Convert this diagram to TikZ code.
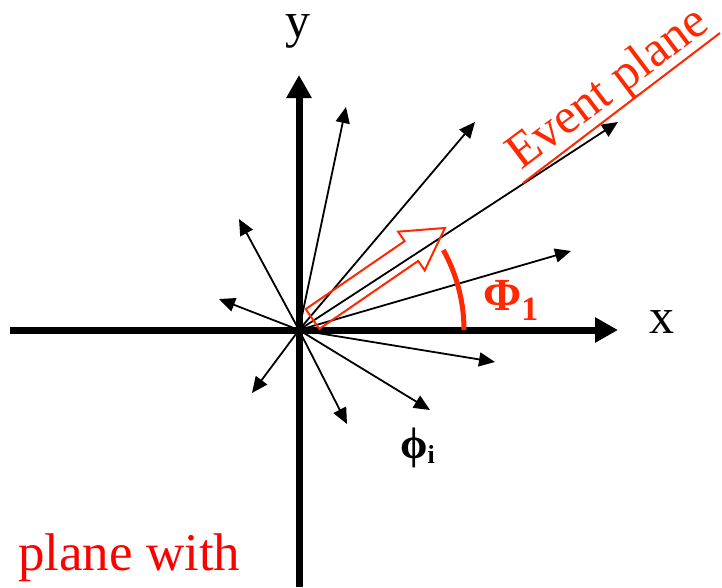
\documentclass[tikz,border=0pt]{standalone}
\usepackage{fontspec}
\setmainfont{Liberation Serif}
\usetikzlibrary{arrows.meta}
\definecolor{epred}{RGB}{255,40,0}

\begin{document}
\begin{tikzpicture}[x=1pt,y=1pt,
  axis/.style={line width=7pt,-{Triangle[length=23pt,width=24pt]}},
  vec/.style={line width=1.8pt,-{Triangle[length=16pt,width=14pt]}},
  lbl/.style={inner sep=0pt,font=\fontsize{50}{60}\selectfont}]
\path[use as bounding box] (-299,-257) rectangle (423,330);
% axes
\coordinate (O) at (0,0);
\coordinate (xl) at (-289,0);
\coordinate (xr) at (319,0);
\coordinate (yb) at (0,-257);
\coordinate (yt) at (0,255);
\draw[axis] (xl) -- (xr);
\draw[axis] (yb) -- (yt);
\node[lbl,anchor=base] (xlab) at (363,-3) {x};
\node[lbl,anchor=base] (ylab) at (-1,292) {y};
% particle momenta
\coordinate (v1) at (47,223);
\coordinate (v2) at (176,208);
\coordinate (v3) at (319,208);
\coordinate (v4) at (272,79);
\coordinate (v5) at (196,-32);
\coordinate (v6) at (131,-80);
\coordinate (v7) at (48,-94);
\coordinate (v8) at (-47,-63);
\coordinate (v9) at (-80,31);
\coordinate (v10) at (-60,111);
\foreach \v in {v1,v2,v3,v4,v5,v6,v7,v8,v9,v10}
  \draw[vec] (O) -- (\v);
% event plane
\node[lbl,epred,anchor=base west,rotate=37] (eplab) at (222,159) {Event plane};
\coordinate (ul1) at (224,147);
\coordinate (ul2) at (421,297);
\draw[epred,line width=2pt] (ul1) -- (ul2);
\begin{scope}[shift={(13.5,11)},rotate=34.5]
\draw[epred,line width=2pt] (0,-12) -- (120,-12) -- (120,-23.5) -- (160.7,0)
  -- (120,23.5) -- (120,12) -- (0,12) -- cycle;
\end{scope}
\draw[epred,line width=5pt] (165,0) arc[start angle=0,end angle=29,radius=165];
\node[lbl,epred,anchor=base west,font=\fontsize{46}{55}\selectfont] (Phi) at (184,20)
  {\bfseries Φ\raisebox{-10pt}{\fontsize{34}{40}\selectfont 1}};
\node[inner sep=0pt,anchor=base west,font=\fontsize{44}{52}\selectfont\bfseries] (phi) at (101,-128)
  {ϕ\raisebox{-5pt}{\fontsize{26}{30}\selectfont i}};
\node[lbl,red,anchor=base west,font=\fontsize{53}{64}\selectfont] (note) at (-281,-240) {plane with};
\end{tikzpicture}
\end{document}
